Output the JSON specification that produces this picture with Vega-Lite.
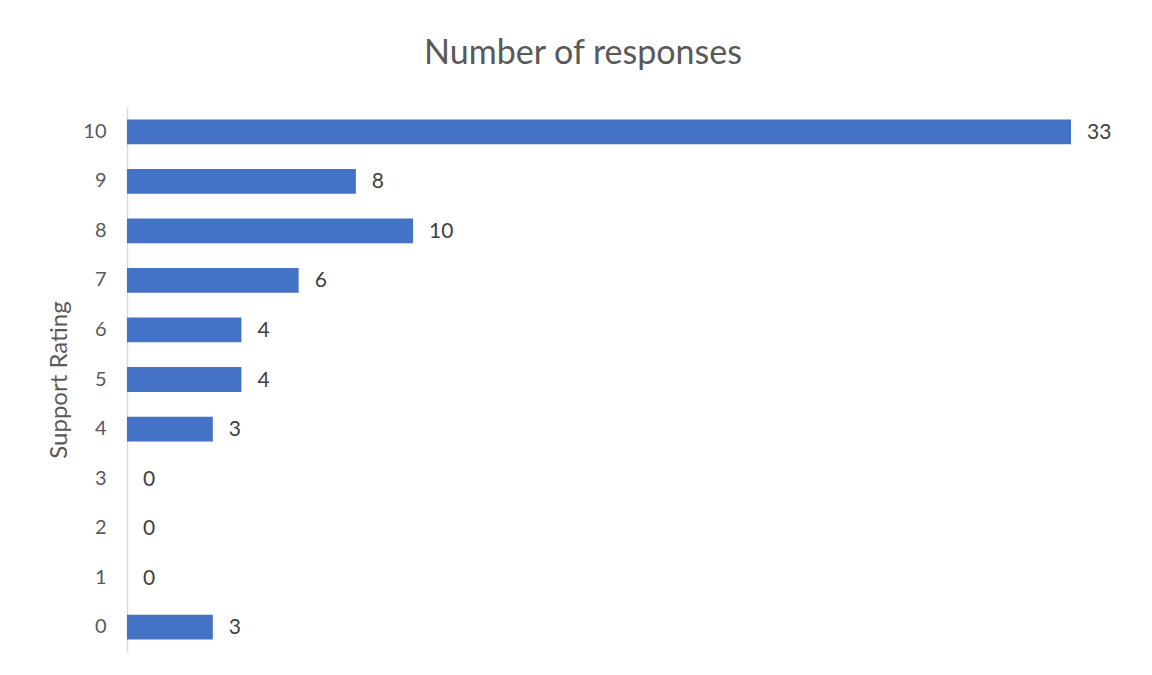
{
  "$schema": "https://vega.github.io/schema/vega-lite/v6.json",
  "autosize": {"type": "none"},
  "width": 944,
  "height": 545,
  "padding": {"left": 127, "top": 107, "right": 81, "bottom": 23},
  "background": "white",
  "title": {
    "text": "Number of responses",
    "font": "Lato",
    "fontSize": 34,
    "fontWeight": "normal",
    "color": "#595959",
    "anchor": "middle",
    "dx": -16,
    "offset": 36
  },
  "config": {"view": {"stroke": null}},
  "data": {
    "values": [
      {"rating": "10", "count": 33},
      {"rating": "9", "count": 8},
      {"rating": "8", "count": 10},
      {"rating": "7", "count": 6},
      {"rating": "6", "count": 4},
      {"rating": "5", "count": 4},
      {"rating": "4", "count": 3},
      {"rating": "3", "count": 0},
      {"rating": "2", "count": 0},
      {"rating": "1", "count": 0},
      {"rating": "0", "count": 3}
    ]
  },
  "encoding": {
    "y": {
      "field": "rating",
      "type": "nominal",
      "sort": ["10","9","8","7","6","5","4","3","2","1","0"],
      "scale": {"paddingInner": 0.5, "paddingOuter": 0.25},
      "axis": {
        "title": "Support Rating",
        "titleFont": "Lato",
        "titleFontSize": 24,
        "titleFontWeight": "normal",
        "titleColor": "#595959",
        "titlePadding": 11,
        "labelFont": "Lato",
        "labelFontSize": 20,
        "labelColor": "#595959",
        "labelPadding": 21,
        "ticks": false,
        "domainColor": "#d9d9d9",
        "domainWidth": 1.5,
        "grid": false
      }
    },
    "x": {
      "field": "count",
      "type": "quantitative",
      "scale": {"domain": [0, 33], "nice": false},
      "axis": null
    }
  },
  "layer": [
    {"mark": {"type": "bar", "color": "#4472C4"}},
    {
      "mark": {"type": "text", "align": "left", "dx": 16, "dy": 1, "font": "Lato", "fontSize": 21, "color": "#404040"},
      "encoding": {"text": {"field": "count", "type": "quantitative"}}
    }
  ]
}
